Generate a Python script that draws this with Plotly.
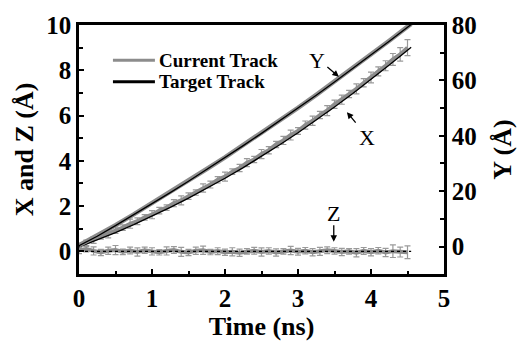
import plotly.graph_objects as go

# ---- data ----
t_target = [0.0, 0.25, 0.5, 0.75, 1.0, 1.25, 1.5, 1.75, 2.0, 2.25, 2.5, 2.75, 3.0,
            3.25, 3.5, 3.75, 4.0, 4.25, 4.5, 4.55]
x_target = [0.20, 0.51, 0.83, 1.18, 1.55, 1.94, 2.35, 2.78, 3.23, 3.70, 4.19, 4.71, 5.24,
            5.80, 6.38, 6.97, 7.59, 8.23, 8.89, 9.02]
y_target = [0.3, 3.74, 7.56, 11.45, 15.42, 19.47, 23.6, 27.8, 32.08, 36.44, 40.88, 45.39, 49.98,
            54.65, 59.4, 64.22, 69.12, 74.1, 79.16, 80.2]
z_target = [0.0] * 20
y_current = [0.5, 3.9, 7.7, 11.6, 15.6, 19.6, 23.8, 28.0, 32.2, 36.6, 41.0, 45.5, 50.1,
             54.8, 59.6, 64.4, 69.3, 74.3, 79.4, 80.4]

t_current = [0.0, 0.1, 0.2, 0.3, 0.4, 0.5, 0.6, 0.7, 0.8, 0.9, 1.0, 1.1, 1.2, 1.3, 1.4, 1.5,
             1.6, 1.7, 1.8, 1.9, 2.0, 2.1, 2.2, 2.3, 2.4, 2.5, 2.6, 2.7, 2.8, 2.9, 3.0, 3.1,
             3.2, 3.3, 3.4, 3.5, 3.6, 3.7, 3.8, 3.9, 4.0, 4.1, 4.2, 4.3, 4.4, 4.5]
x_current = [0.25, 0.38, 0.50, 0.66, 0.78, 0.93, 1.05, 1.22, 1.33, 1.50, 1.62, 1.80, 1.93,
             2.13, 2.25, 2.44, 2.60, 2.80, 2.95, 3.16, 3.30, 3.52, 3.68, 3.92, 4.06, 4.30,
             4.47, 4.72, 4.90, 5.14, 5.32, 5.58, 5.77, 6.02, 6.22, 6.50, 6.70, 6.95, 7.18,
             7.45, 7.68, 7.95, 8.20, 8.48, 8.70, 9.00]
x_err = [0.10, 0.12, 0.15, 0.12, 0.18, 0.14, 0.12, 0.20, 0.15, 0.12, 0.18, 0.14, 0.12,
         0.16, 0.20, 0.14, 0.12, 0.18, 0.15, 0.14, 0.20, 0.12, 0.16, 0.18, 0.14, 0.20,
         0.16, 0.14, 0.18, 0.22, 0.15, 0.18, 0.20, 0.16, 0.22, 0.18, 0.20, 0.16, 0.22,
         0.18, 0.24, 0.20, 0.22, 0.26, 0.30, 0.35]
z_current = [0.05, 0.10, 0.02, -0.05, 0.03, 0.06, -0.02, 0.04, -0.03, 0.05, 0.00, -0.04,
             0.02, 0.06, -0.02, -0.05, 0.03, 0.05, -0.03, 0.01, -0.04, -0.02, -0.06, 0.00,
             0.03, -0.03, 0.02, -0.05, 0.00, 0.04, -0.02, 0.03, -0.04, 0.00, 0.05, 0.02,
             -0.03, 0.00, -0.06, 0.02, -0.04, 0.03, -0.05, 0.01, -0.03, -0.04]
z_err = [0.15, 0.12, 0.18, 0.14, 0.16, 0.20, 0.12, 0.15, 0.18, 0.14, 0.16, 0.12, 0.18,
         0.15, 0.20, 0.14, 0.16, 0.18, 0.12, 0.15, 0.14, 0.18, 0.16, 0.12, 0.15, 0.18,
         0.14, 0.16, 0.12, 0.18, 0.15, 0.14, 0.16, 0.18, 0.15, 0.14, 0.16, 0.12, 0.18,
         0.15, 0.16, 0.14, 0.18, 0.28, 0.22, 0.28]

legend_names = ["Current Track", "Target Track"]

GRAY = "#8c8c8c"
FONT = "Liberation Serif"

fig = go.Figure()

err_style = dict(type="data", visible=True, color="#9a9a9a", thickness=1.2, width=3)

# current tracks (gray)
fig.add_trace(go.Scatter(x=t_target, y=y_current, mode="lines", yaxis="y2",
                         line=dict(color=GRAY, width=4.5), showlegend=False))
fig.add_trace(go.Scatter(x=t_current, y=x_current, mode="lines",
                         line=dict(color=GRAY, width=4),
                         error_y=dict(array=x_err, **err_style), showlegend=False))
fig.add_trace(go.Scatter(x=t_current, y=z_current, mode="lines",
                         line=dict(color=GRAY, width=4),
                         error_y=dict(array=z_err, **err_style), showlegend=False))

# target tracks (black)
fig.add_trace(go.Scatter(x=t_target, y=y_target, mode="lines", yaxis="y2",
                         line=dict(color="black", width=1.3), showlegend=False))
fig.add_trace(go.Scatter(x=t_target, y=x_target, mode="lines",
                         line=dict(color="black", width=1.3), showlegend=False))
fig.add_trace(go.Scatter(x=t_target, y=z_target, mode="lines",
                         line=dict(color="black", width=1.3, dash="dot"), showlegend=False))

tickfont = dict(family=FONT, size=25, color="black", weight="bold")
titlefont = dict(family=FONT, size=26, color="black", weight="bold")

fig.update_layout(
    width=528, height=342,
    margin=dict(l=79, r=84, t=25, b=63),
    paper_bgcolor="white", plot_bgcolor="white",
    showlegend=False,
    xaxis=dict(range=[0, 5], tickvals=[0, 1, 2, 3, 4, 5], ticks="inside", ticklen=5,
               tickwidth=2, tickcolor="black",
               minor=dict(tickvals=[0.5, 1.5, 2.5, 3.5, 4.5], ticks="inside", ticklen=3,
                          tickwidth=2, tickcolor="black"),
               showline=True, linewidth=2.5, linecolor="black", mirror=True,
               showgrid=False, zeroline=False, tickfont=tickfont,
               title=dict(text="Time (ns)", font=titlefont, standoff=0)),
    yaxis=dict(range=[-1, 10], tickvals=[0, 2, 4, 6, 8, 10], ticks="inside", ticklen=5,
               tickwidth=2, tickcolor="black",
               minor=dict(tickvals=[1, 3, 5, 7, 9], ticks="inside", ticklen=4,
                          tickwidth=2, tickcolor="black"),
               showline=True, linewidth=2.5, linecolor="black", mirror=True,
               showgrid=False, zeroline=False, tickfont=tickfont,
               title=dict(text="X and Z (Å)", font=titlefont, standoff=6)),
    yaxis2=dict(range=[-9.9, 80], overlaying="y", side="right",
                tickvals=[0, 20, 40, 60, 80], ticks="inside", ticklen=5,
                tickwidth=2, tickcolor="black",
                minor=dict(tickvals=[10, 30, 50, 70], ticks="inside", ticklen=4,
                           tickwidth=2, tickcolor="black"),
                showline=True, linewidth=2.5, linecolor="black",
                showgrid=False, zeroline=False, tickfont=tickfont,
                title=dict(text="Y (Å)", font=titlefont, standoff=18)),
)

# manual legend (line samples + text)
leg_font = dict(family=FONT, size=19, color="black", weight="bold")
leg_items = [(legend_names[0], GRAY, 0.858), (legend_names[1], "black", 0.772)]
for name, col, yy in leg_items:
    fig.add_shape(type="line", xref="paper", yref="paper", x0=0.093, x1=0.208,
                  y0=yy, y1=yy, line=dict(color=col, width=3))
    fig.add_annotation(xref="paper", yref="paper", x=0.213, y=yy, text=name,
                       showarrow=False, xanchor="left", yanchor="middle", font=leg_font)

ann_font = dict(family=FONT, size=22, color="black")
labels = [("Y", 3.26, 8.44), ("X", 3.95, 5.02), ("Z", 3.49, 1.69)]
for txt, lx, ly in labels:
    fig.add_annotation(x=lx, y=ly, text=txt, showarrow=False, font=ann_font)
arrows = [(3.56, 7.71, -13, -11), (3.67, 6.15, 10, 12), (3.49, 0.43, 0, -18)]
for tx, ty, axp, ayp in arrows:
    fig.add_annotation(x=tx, y=ty, ax=axp, ay=ayp, text="", showarrow=True,
                       arrowhead=2, arrowsize=1, arrowwidth=1.3, arrowcolor="black")

fig.write_html("out.html")
